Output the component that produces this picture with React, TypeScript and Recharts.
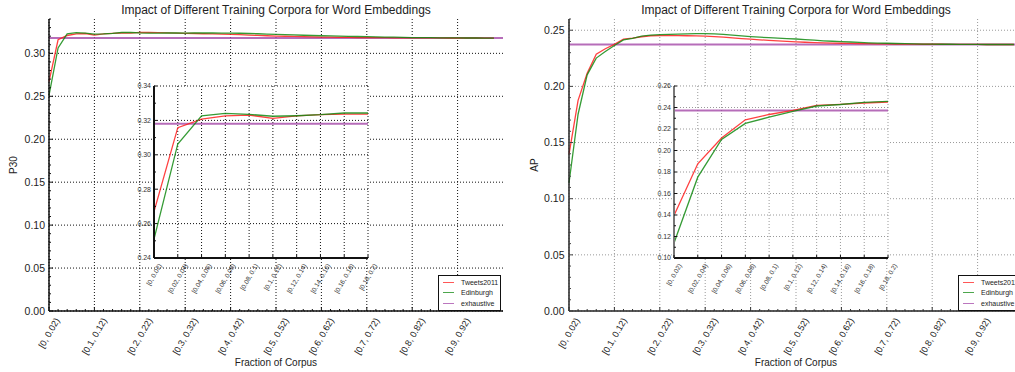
import React from "react";
import { LineChart, Line, XAxis, YAxis, CartesianGrid, ReferenceLine, Legend } from "recharts";

const FONT = "'Liberation Sans', Arial, Helvetica, sans-serif";

const seriesNames = ["Tweets2011", "Edinburgh", "exhaustive"];
const seriesColors = ["#ff1f1f", "#128a12", "#a448a8"];

// labelled bins on the main x axis (every 5th bin)
const mainTickLabels = [
  "[0, 0.02)", "[0.1, 0.12)", "[0.2, 0.22)", "[0.3, 0.32)", "[0.4, 0.42)",
  "[0.5, 0.52)", "[0.6, 0.62)", "[0.7, 0.72)", "[0.8, 0.82)", "[0.9, 0.92)",
];
// first ten bins, shown in the insets
const insetTickLabels = [
  "[0, 0.02)", "[0.02, 0.04)", "[0.04, 0.06)", "[0.06, 0.08)", "[0.08, 0.1)",
  "[0.1, 0.12)", "[0.12, 0.14)", "[0.14, 0.16)", "[0.16, 0.18)", "[0.18, 0.2)",
];

const p30Tweets = [
  0.267, 0.3158, 0.3208, 0.3226, 0.3231, 0.3212, 0.3226, 0.3233, 0.3237, 0.3236,
  0.3244, 0.3243, 0.3241, 0.3239, 0.3236, 0.3233, 0.3231, 0.3228, 0.3226, 0.3224,
  0.3221, 0.3217, 0.3213, 0.3209, 0.3205, 0.3201, 0.3199, 0.3197, 0.3194, 0.3192,
  0.319, 0.3189, 0.3187, 0.3186, 0.3184, 0.3183, 0.3182, 0.3182, 0.3181, 0.3181,
  0.318, 0.318, 0.318, 0.318, 0.3179, 0.3179, 0.3179, 0.3179, 0.3178, 0.3178,
];
const p30Edinburgh = [
  0.251, 0.3063, 0.3227, 0.3241, 0.3235, 0.3224, 0.3227, 0.3233, 0.3243, 0.3243,
  0.3238, 0.3236, 0.3236, 0.3237, 0.3237, 0.3236, 0.3237, 0.3237, 0.3237, 0.3236,
  0.3236, 0.3234, 0.3231, 0.3228, 0.3225, 0.3221, 0.3218, 0.3214, 0.3211, 0.3208,
  0.3205, 0.3203, 0.32, 0.3198, 0.3196, 0.3194, 0.3192, 0.319, 0.3188, 0.3186,
  0.3184, 0.3183, 0.3182, 0.3181, 0.318, 0.318, 0.3179, 0.3179, 0.3178, 0.3178,
];
const p30Exhaustive = 0.318;

const apTweets = [
  0.1395, 0.1876, 0.2116, 0.2286, 0.2335, 0.2374, 0.242, 0.243, 0.2442, 0.2451,
  0.2452, 0.2453, 0.2452, 0.2451, 0.2449, 0.2447, 0.2443, 0.2438, 0.2432, 0.2426,
  0.242, 0.2415, 0.241, 0.2405, 0.24, 0.2396, 0.2393, 0.239, 0.2388, 0.2386,
  0.2384, 0.2383, 0.2381, 0.238, 0.2379, 0.2378, 0.2377, 0.2376, 0.2376, 0.2375,
  0.2375, 0.2375, 0.2374, 0.2374, 0.2374, 0.2374, 0.2373, 0.2373, 0.2373, 0.2373,
];
const apEdinburgh = [
  0.114, 0.1752, 0.2103, 0.2252, 0.231, 0.2364, 0.2414, 0.2428, 0.2448, 0.2457,
  0.246, 0.2463, 0.2466, 0.2468, 0.2469, 0.247, 0.2468, 0.2463, 0.2456, 0.2449,
  0.2443, 0.2438, 0.2434, 0.2429, 0.2425, 0.2422, 0.2417, 0.2411, 0.2406, 0.2402,
  0.2398, 0.2395, 0.2391, 0.2388, 0.2386, 0.2384, 0.2382, 0.238, 0.2378, 0.2377,
  0.2376, 0.2375, 0.2375, 0.2374, 0.2374, 0.2374, 0.2373, 0.2373, 0.2373, 0.2373,
];
const apExhaustive = 0.2373;

const p30Ticks = [0, 0.05, 0.1, 0.15, 0.2, 0.25, 0.3];
const p30InsetTicks = [0.24, 0.26, 0.28, 0.3, 0.32, 0.34];
const apTicks = [0, 0.05, 0.1, 0.15, 0.2, 0.25];
const apInsetTicks = [0.1, 0.12, 0.14, 0.16, 0.18, 0.2, 0.22, 0.24, 0.26];

const range = (n: number) => Array.from({ length: n }, (_, i) => i);
const steps = (lo: number, hi: number, st: number) =>
  range(Math.round((hi - lo) / st) + 1).map((i) => Math.round((lo + i * st) * 1e4) / 1e4);
const isIn = (arr: number[], v: number) => arr.some((m) => Math.abs(m - v) < 1e-6);

const charW: Record<string, number> = { ".": 0.278, ",": 0.278, " ": 0.278, "[": 0.278, ")": 0.333 };
const textWidth = (s: string, fs: number) => s.split("").reduce((a, c) => a + (charW[c] ?? 0.556), 0) * fs;

type St = { stroke: string; text: string; fs: number; major: number; minor: number; pad: number };

function BottomTick({ x, y, payload, getLabel, st }: any) {
  const label: string | undefined = getLabel(payload.value);
  const len = label ? st.major : st.minor;
  const L = label ? textWidth(label, st.fs) : 0;
  const a = st.fs * 0.72;
  const ex = x + 0.25 * L + 0.433 * a;
  const ey = y + st.pad + 0.5 * a;
  return (
    <g>
      <line x1={x} x2={x} y1={y} y2={y - len} stroke={st.stroke} strokeWidth={1} />
      {label && (
        <text x={ex} y={ey} transform={`rotate(-60 ${ex} ${ey})`} textAnchor="end"
          fontSize={st.fs} fill={st.text} fontFamily={FONT}>{label}</text>
      )}
    </g>
  );
}

function TopTick({ x, y, payload, getLabel, st }: any) {
  const len = getLabel(payload.value) ? st.major : st.minor;
  return <line x1={x} x2={x} y1={y} y2={y + len} stroke={st.stroke} strokeWidth={1} />;
}

function SideTick({ x, y, payload, majors, st, side }: any) {
  const v = payload.value;
  const major = isIn(majors, v);
  const dir = side === "left" ? 1 : -1;
  return (
    <g>
      <line x1={x} x2={x + dir * (major ? st.major : st.minor)} y1={y} y2={y} stroke={st.stroke} strokeWidth={1} />
      {major && side === "left" && (
        <text x={x - st.pad} y={y} dy="0.35em" textAnchor="end" fontSize={st.fs} fill={st.text} fontFamily={FONT}>
          {v.toFixed(2)}
        </text>
      )}
    </g>
  );
}

function LegendBox() {
  return (
    <div style={{ border: "1px solid #111", background: "#fff", padding: "1px 0", width: 63, boxSizing: "border-box",
      fontFamily: FONT, fontSize: 7, color: "#222", whiteSpace: "nowrap", overflow: "hidden" }}>
      {seriesNames.map((n, k) => (
        <div key={n} style={{ display: "flex", alignItems: "center", height: 10.5 }}>
          <span style={{ display: "inline-block", width: 11, height: 0, borderTop: `1.5px solid ${seriesColors[k]}`,
            opacity: 0.75, marginLeft: 4, marginRight: 7 }} />
          <span>{n}</span>
        </div>
      ))}
    </div>
  );
}

type PanelCfg = {
  left: number; width: number; yWidth: number; yLabel: string; labelOffset: number;
  tweets: number[]; edin: number[]; exhaustive: number;
  yMax: number; yTicks: number[];
  insetLeft: number; insetDomain: [number, number]; insetTicks: number[];
  grid: string; frame: string; topFrame: string; tickSt: St; xSt: St;
  insetFrame: string; insetSide: string;
};

function Panel({ cfg }: { cfg: PanelCfg }) {
  const data = cfg.tweets.map((v, i) => ({ i, t: v, e: cfg.edin[i] }));
  const insetData = data.slice(0, insetTickLabels.length);
  const mainX = range(50);
  const mainLabel = (v: number) => (v % 5 === 0 ? mainTickLabels[v / 5] : undefined);
  const insetLabel = (v: number) => insetTickLabels[v];
  const yMinor = steps(0, cfg.yMax, 0.01);
  const insetMinor = steps(cfg.insetDomain[0], cfg.insetDomain[1], 0.01);
  const st = cfg.tickSt;
  const insetSt: St = { stroke: cfg.insetFrame, text: "#333", fs: 6.5, major: 3, minor: 2, pad: 5 };
  const insetYSt: St = { ...insetSt, fs: 7, pad: 3 };
  const plotW = 454;

  return (
    <>
      <div style={{ position: "absolute", left: cfg.left + cfg.yWidth, top: 3, width: plotW, textAlign: "center",
        fontFamily: FONT, fontSize: 12, lineHeight: "14px", color: "#222" }}>
        Impact of Different Training Corpora for Word Embeddings
      </div>
      <div style={{ position: "absolute", left: cfg.left, top: 0 }}>
        <LineChart width={cfg.width} height={372} data={data} margin={{ top: 19, right: cfg.width - cfg.yWidth - plotW, bottom: 0, left: 0 }}>
          <CartesianGrid stroke={cfg.grid} strokeDasharray="1 2"
            verticalValues={mainTickLabels.map((_, k) => k * 5)} horizontalValues={cfg.yTicks} />
          <XAxis dataKey="i" type="number" domain={[0, 50]} ticks={mainX} interval={0} height={61}
            tickSize={0} tickMargin={0} tickLine={false} axisLine={{ stroke: cfg.frame, strokeWidth: 1.5 }}
            tick={(p: any) => <BottomTick {...p} getLabel={mainLabel} st={cfg.xSt} />}
            label={{ value: "Fraction of Corpus", position: "insideBottom", offset: 6.5,
              style: { fontSize: 10, fill: "#222", fontFamily: FONT } }} />
          <XAxis xAxisId="top" orientation="top" type="number" domain={[0, 50]} ticks={mainX} interval={0} height={0}
            tickSize={0} tickMargin={0} tickLine={false} axisLine={{ stroke: cfg.topFrame, strokeWidth: 1.5 }}
            tick={(p: any) => <TopTick {...p} getLabel={mainLabel} st={st} />} />
          <YAxis type="number" domain={[0, cfg.yMax]} ticks={yMinor} interval={0} width={cfg.yWidth}
            tickSize={0} tickMargin={0} tickLine={false} axisLine={{ stroke: cfg.frame, strokeWidth: 1.5 }}
            tick={(p: any) => <SideTick {...p} majors={cfg.yTicks} st={st} side="left" />}
            label={{ value: cfg.yLabel, angle: -90, position: "insideLeft", offset: cfg.labelOffset,
              style: { fontSize: 10, fill: "#222", fontFamily: FONT, textAnchor: "middle" } }} />
          <YAxis yAxisId="right" orientation="right" type="number" domain={[0, cfg.yMax]} ticks={yMinor} interval={0} width={0}
            tickSize={0} tickMargin={0} tickLine={false} axisLine={{ stroke: cfg.topFrame, strokeWidth: 1.5 }}
            tick={(p: any) => <SideTick {...p} majors={cfg.yTicks} st={st} side="right" />} />
          <ReferenceLine y={cfg.exhaustive} stroke={seriesColors[2]} strokeWidth={2} strokeOpacity={0.8} />
          <Line type="linear" dataKey="t" stroke={seriesColors[0]} strokeWidth={1.3} strokeOpacity={0.85} dot={false} isAnimationActive={false} />
          <Line type="linear" dataKey="e" stroke={seriesColors[1]} strokeWidth={1.3} strokeOpacity={0.85} dot={false} isAnimationActive={false} />
          <Legend layout="vertical" align="center" verticalAlign="middle" content={() => <LegendBox />}
            wrapperStyle={{ left: cfg.yWidth + 389, top: 275, width: 63, height: 34, bottom: "auto", right: "auto" }} />
        </LineChart>
      </div>
      <div style={{ position: "absolute", left: cfg.insetLeft - 40, top: 76 }}>
        <LineChart width={264} height={242} data={insetData} margin={{ top: 10, right: 10, bottom: 0, left: 0 }}>
          <CartesianGrid stroke={cfg.grid} strokeDasharray="1 2" fill="#fff" fillOpacity={1}
            verticalValues={range(insetTickLabels.length)} horizontalValues={cfg.insetTicks} />
          <XAxis dataKey="i" type="number" domain={[0, insetTickLabels.length - 1]} ticks={range(insetTickLabels.length)}
            interval={0} height={60} tickSize={0} tickMargin={0} tickLine={false}
            axisLine={{ stroke: cfg.insetFrame, strokeWidth: 2 }}
            tick={(p: any) => <BottomTick {...p} getLabel={insetLabel} st={insetSt} />} />
          <XAxis xAxisId="top" orientation="top" type="number" domain={[0, insetTickLabels.length - 1]}
            ticks={range(insetTickLabels.length)} interval={0} height={0} tickSize={0} tickMargin={0} tickLine={false}
            axisLine={{ stroke: cfg.insetSide, strokeWidth: 2 }}
            tick={(p: any) => <TopTick {...p} getLabel={insetLabel} st={insetSt} />} />
          <YAxis type="number" domain={cfg.insetDomain} ticks={insetMinor} interval={0} width={40}
            tickSize={0} tickMargin={0} tickLine={false} axisLine={{ stroke: cfg.insetSide, strokeWidth: 2 }}
            allowDataOverflow
            tick={(p: any) => <SideTick {...p} majors={cfg.insetTicks} st={insetYSt} side="left" />} />
          <YAxis yAxisId="right" orientation="right" type="number" domain={cfg.insetDomain} ticks={insetMinor} interval={0}
            width={0} tickSize={0} tickMargin={0} tickLine={false} axisLine={{ stroke: cfg.insetSide, strokeWidth: 2 }}
            tick={(p: any) => <SideTick {...p} majors={cfg.insetTicks} st={insetYSt} side="right" />} />
          <ReferenceLine y={cfg.exhaustive} stroke={seriesColors[2]} strokeWidth={2} strokeOpacity={0.8} />
          <Line type="linear" dataKey="t" stroke={seriesColors[0]} strokeWidth={1.3} strokeOpacity={0.85} dot={false} isAnimationActive={false} />
          <Line type="linear" dataKey="e" stroke={seriesColors[1]} strokeWidth={1.3} strokeOpacity={0.85} dot={false} isAnimationActive={false} />
        </LineChart>
      </div>
    </>
  );
}

const leftCfg: PanelCfg = {
  left: 0, width: 510, yWidth: 49, yLabel: "P30", labelOffset: 13,
  tweets: p30Tweets, edin: p30Edinburgh, exhaustive: p30Exhaustive,
  yMax: 0.34, yTicks: p30Ticks,
  insetLeft: 154, insetDomain: [0.24, 0.34], insetTicks: p30InsetTicks,
  grid: "#111", frame: "#111", topFrame: "#111", insetFrame: "#111", insetSide: "#111",
  tickSt: { stroke: "#111", text: "#222", fs: 10.5, major: 4, minor: 2, pad: 4 },
  xSt: { stroke: "#111", text: "#222", fs: 9, major: 4, minor: 2, pad: 6 },
};

const rightCfg: PanelCfg = {
  left: 510, width: 520, yWidth: 59, yLabel: "AP", labelOffset: 24,
  tweets: apTweets, edin: apEdinburgh, exhaustive: apExhaustive,
  yMax: 0.26, yTicks: apTicks,
  insetLeft: 674, insetDomain: [0.1, 0.26], insetTicks: apInsetTicks,
  grid: "#999", frame: "#222", topFrame: "#555", insetFrame: "#111", insetSide: "#777",
  tickSt: { stroke: "#444", text: "#222", fs: 10.5, major: 4, minor: 2, pad: 4.5 },
  xSt: { stroke: "#333", text: "#222", fs: 9, major: 4, minor: 2, pad: 6 },
};

export default function App() {
  return (
    <div style={{ position: "absolute", left: 0, top: 0, width: 1015, height: 372, overflow: "hidden", background: "#fff" }}>
      <Panel cfg={leftCfg} />
      <Panel cfg={rightCfg} />
    </div>
  );
}
